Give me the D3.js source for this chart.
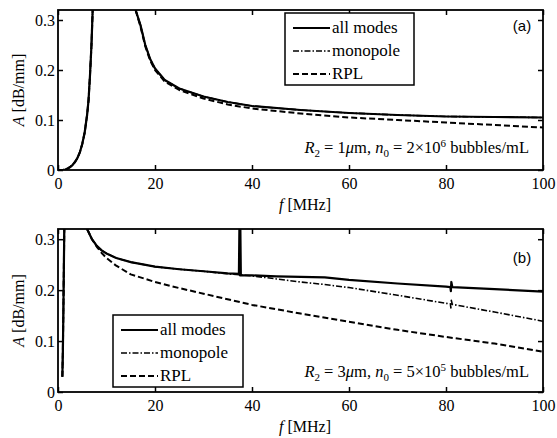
<!DOCTYPE html>
<html>
<head>
<meta charset="utf-8">
<script src="https://cdn.jsdelivr.net/npm/d3@7"></script>
<style>
  body { margin: 0; background: #fff; }
  #chart text, #chart tspan { font-family: "Liberation Serif", serif !important; }
  #chart text.tag { font-family: "Liberation Sans", sans-serif !important; }
</style>
</head>
<body>
<svg id="chart" width="557" height="438" font-family="Liberation Serif"></svg>
<script>
// panel (a): R2 = 1 um
const riseFreqA = [0, 1, 1.5, 2, 2.5, 3, 3.5, 4, 4.5, 5, 5.5, 6, 6.3, 6.6, 6.9, 7.15];
const riseAmpA  = [0, 0, 0.001, 0.003, 0.006, 0.01, 0.016, 0.024, 0.035, 0.052, 0.075, 0.11, 0.14, 0.19, 0.25, 0.32];
const fallFreqA = [16, 17, 18, 19, 20, 22, 25, 30, 35, 40, 50, 60, 70, 80, 90, 100];
const allModesA = [0.32, 0.29, 0.25, 0.222, 0.203, 0.18, 0.163, 0.147, 0.136, 0.128, 0.12, 0.114, 0.11, 0.107, 0.106, 0.105];
const monopoleA = [0.32, 0.29, 0.25, 0.222, 0.203, 0.18, 0.163, 0.147, 0.136, 0.128, 0.12, 0.114, 0.11, 0.107, 0.106, 0.105];
const rplA      = [0.32, 0.287, 0.247, 0.219, 0.2, 0.177, 0.16, 0.143, 0.131, 0.123, 0.113, 0.105, 0.1, 0.095, 0.09, 0.085];

// panel (b): R2 = 3 um
const riseFreqB = [0.9, 1.0, 1.1, 1.2, 1.3];
const riseAmpB  = [0.03, 0.08, 0.15, 0.24, 0.32];
const allFreqB  = [6, 7, 8, 9, 10, 12, 15, 20, 25, 30, 35, 37.3, 37.4, 37.5, 37.6, 37.7, 40, 45, 50, 55, 60, 70, 80, 80.9, 81, 81.1, 81.3, 90, 100];
const allModesB = [0.32, 0.30, 0.287, 0.278, 0.272, 0.263, 0.255, 0.246, 0.241, 0.237, 0.233, 0.232, 0.32, 0.229, 0.32, 0.229, 0.229, 0.227, 0.226, 0.225, 0.22, 0.213, 0.207, 0.206, 0.198, 0.216, 0.206, 0.202, 0.197];
const monoFreqB = [6, 7, 8, 9, 10, 12, 15, 20, 25, 30, 35, 40, 45, 50, 55, 60, 70, 80, 80.9, 81, 81.1, 81.3, 90, 100];
const monopoleB = [0.32, 0.30, 0.287, 0.278, 0.272, 0.263, 0.255, 0.246, 0.241, 0.237, 0.232, 0.228, 0.222, 0.216, 0.211, 0.205, 0.19, 0.174, 0.173, 0.165, 0.18, 0.172, 0.157, 0.139];
const rplFreqB  = [6, 7, 8, 9, 10, 12, 15, 20, 25, 30, 40, 50, 60, 70, 80, 90, 100];
const rplB      = [0.32, 0.30, 0.285, 0.273, 0.263, 0.248, 0.231, 0.216, 0.204, 0.193, 0.171, 0.154, 0.138, 0.122, 0.108, 0.095, 0.079];

const xTicks = [0, 20, 40, 60, 80, 100];
const yTicks = [0, 0.1, 0.2, 0.3];
const legendLabels = ["all modes", "monopole", "RPL"];

const SERIF = "Liberation Serif";
const SANS = "Liberation Sans";

const styles = [
    { width: 2.2, dash: null },
    { width: 1.6, dash: "6,2,1.5,2" },
    { width: 2, dash: "6,3" }
];

const svg = d3.select("#chart");

function zip(fs, as) {
    return fs.map((f, i) => [f, as[i]]);
}

function drawPanel(opt) {
    const x = d3.scaleLinear().domain([0, 100]).range([58, 543]);
    const y = d3.scaleLinear().domain([0, 0.32]).range([opt.bottom, opt.top]);
    const g = svg.append("g");

    const clipId = "clip-" + opt.tag;
    svg.append("clipPath").attr("id", clipId)
        .append("rect")
        .attr("x", x(0)).attr("y", y(0.32))
        .attr("width", x(100) - x(0)).attr("height", y(0) - y(0.32));

    const line = d3.line().x(d => x(d[0])).y(d => y(d[1]));

    const plot = g.append("g").attr("clip-path", `url(#${clipId})`);
    // rising branch shared by all three curves
    opt.series.forEach((s, i) => {
        plot.append("path")
            .datum(zip(opt.riseF, opt.riseA))
            .attr("d", line)
            .attr("fill", "none").attr("stroke", "#000")
            .attr("stroke-width", styles[i].width)
            .attr("stroke-dasharray", styles[i].dash);
    });
    // draw RPL first, then monopole, then all modes on top
    [2, 1, 0].forEach(i => {
        const s = opt.series[i];
        plot.append("path")
            .datum(zip(s.f, s.a))
            .attr("d", line)
            .attr("fill", "none").attr("stroke", "#000")
            .attr("stroke-width", styles[i].width)
            .attr("stroke-dasharray", styles[i].dash)
            .attr("stroke-linejoin", "round");
    });

    // axes with inward ticks
    const fmtY = d => d === 0 ? "0" : d3.format(".1f")(d);
    const axes = g.append("g");
    axes.append("g").attr("transform", `translate(0,${y(0)})`)
        .call(d3.axisBottom(x).tickValues(xTicks).tickSize(-5).tickPadding(8));
    axes.append("g").attr("transform", `translate(0,${y(0.32)})`)
        .call(d3.axisTop(x).tickValues(xTicks).tickSize(-5).tickFormat(""));
    axes.append("g").attr("transform", `translate(${x(0)},0)`)
        .call(d3.axisLeft(y).tickValues(yTicks).tickSize(-5).tickPadding(3).tickFormat(fmtY));
    axes.append("g").attr("transform", `translate(${x(100)},0)`)
        .call(d3.axisRight(y).tickValues(yTicks).tickSize(-5).tickFormat(""));
    axes.selectAll("g").attr("font-family", SERIF).attr("font-size", 16);
    axes.selectAll(".domain").remove();
    axes.selectAll(".tick line").attr("stroke", "#000").attr("stroke-width", 1.5);
    axes.selectAll(".tick text").attr("fill", "#000");

    g.append("rect")
        .attr("x", x(0)).attr("y", y(0.32))
        .attr("width", x(100) - x(0)).attr("height", y(0) - y(0.32))
        .attr("fill", "none").attr("stroke", "#000").attr("stroke-width", 1.8);

    // axis labels
    const xl = g.append("text")
        .attr("x", 305).attr("y", y(0) + 40)
        .attr("text-anchor", "middle").attr("font-size", 16);
    xl.append("tspan").attr("font-style", "italic").text("f");
    xl.append("tspan").text(" [MHz]");

    const yMid = (y(0) + y(0.32)) / 2;
    const yl = g.append("text")
        .attr("transform", `translate(24,${yMid}) rotate(-90)`)
        .attr("text-anchor", "middle").attr("font-size", 16);
    yl.append("tspan").attr("font-style", "italic").text("A");
    yl.append("tspan").text(" [dB/mm]");

    // panel tag
    g.append("text")
        .attr("class", "tag")
        .attr("font-family", SANS)
        .attr("x", 522).attr("y", opt.tagY)
        .attr("text-anchor", "middle")
        .attr("font-size", 15)
        .text(`(${opt.tag})`);

    // parameter note
    const note = g.append("text")
        .attr("x", 529).attr("y", opt.noteY)
        .attr("text-anchor", "end").attr("font-size", 16.5);
    note.append("tspan").attr("font-style", "italic").text("R");
    note.append("tspan").attr("dy", 4).attr("font-size", 11).text("2");
    note.append("tspan").attr("dy", -4).text(` = ${opt.r}`);
    note.append("tspan").attr("font-style", "italic").text("μ");
    note.append("tspan").text("m, ");
    note.append("tspan").attr("font-style", "italic").text("n");
    note.append("tspan").attr("dy", 4).attr("font-size", 11).text("0");
    note.append("tspan").attr("dy", -4).text(` = ${opt.n}×10`);
    note.append("tspan").attr("dy", -6).attr("font-size", 11).text(opt.exp);
    note.append("tspan").attr("dy", 6).text(" bubbles/mL");

    // legend
    const lg = g.append("g");
    lg.append("rect")
        .attr("x", opt.legend.x).attr("y", opt.legend.y)
        .attr("width", opt.legend.w).attr("height", opt.legend.h)
        .attr("fill", "#fff").attr("stroke", "#000").attr("stroke-width", 1.5);
    legendLabels.forEach((lab, i) => {
        const cy = opt.legend.y + 15 + i * 23;
        lg.append("line")
            .attr("x1", opt.legend.x + 8).attr("x2", opt.legend.x + 45)
            .attr("y1", cy).attr("y2", cy)
            .attr("stroke", "#000")
            .attr("stroke-width", styles[i].width)
            .attr("stroke-dasharray", styles[i].dash);
        lg.append("text")
            .attr("font-family", SERIF)
            .attr("x", opt.legend.x + 47).attr("y", cy + 5)
            .attr("font-size", 17)
            .text(lab);
    });
}

drawPanel({
    tag: "a", top: 10, bottom: 170, tagY: 31, noteY: 153,
    r: "1", n: "2", exp: "6",
    riseF: riseFreqA, riseA: riseAmpA,
    series: [
        { f: fallFreqA, a: allModesA },
        { f: fallFreqA, a: monopoleA },
        { f: fallFreqA, a: rplA }
    ],
    legend: { x: 285, y: 13, w: 129, h: 72 }
});

drawPanel({
    tag: "b", top: 229, bottom: 392, tagY: 263, noteY: 377,
    r: "3", n: "5", exp: "5",
    riseF: riseFreqB, riseA: riseAmpB,
    series: [
        { f: allFreqB, a: allModesB },
        { f: monoFreqB, a: monopoleB },
        { f: rplFreqB, a: rplB }
    ],
    legend: { x: 113, y: 315, w: 130, h: 72 }
});
</script>
</body>
</html>
